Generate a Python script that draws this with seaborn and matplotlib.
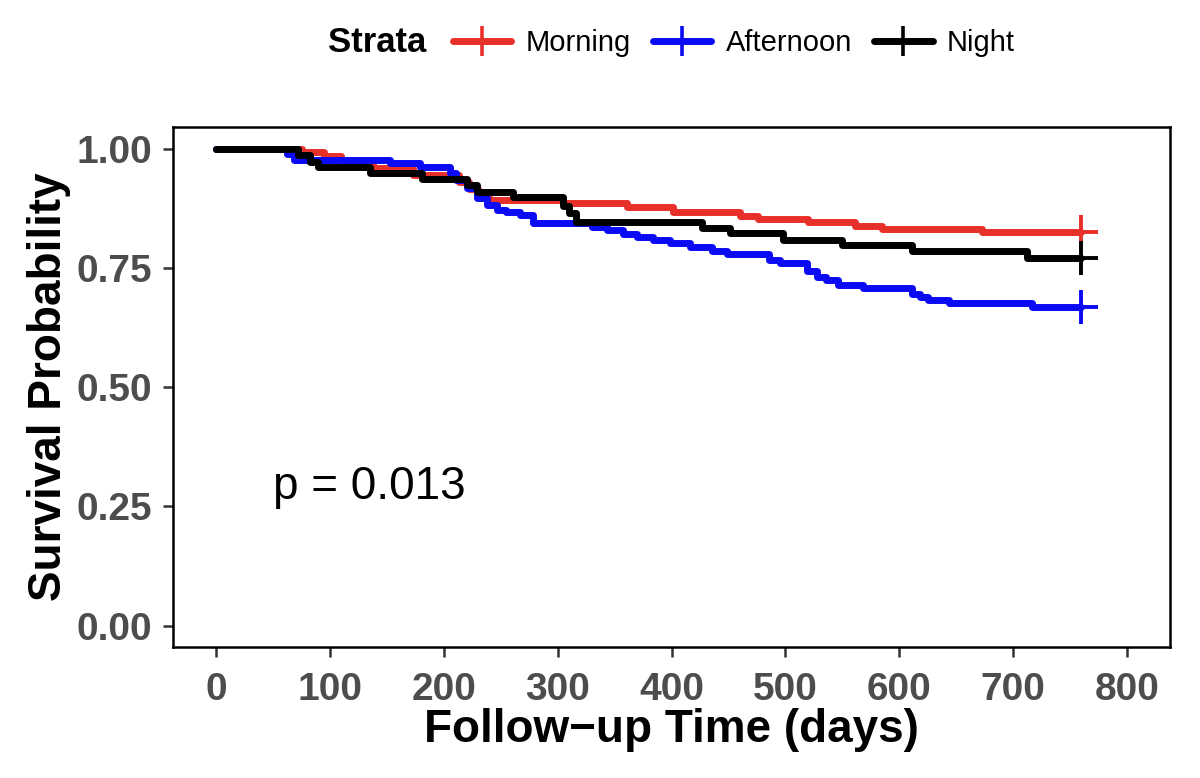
import matplotlib
matplotlib.use("Agg")
import matplotlib.pyplot as plt
from matplotlib.lines import Line2D
import seaborn as sns
import pandas as pd

# ---- data ----
strata = ["Morning", "Afternoon", "Night"]
colors = ["#E8302A", "#0A0AF5", "#000000"]

morning_t = [0, 75, 95, 110, 138, 173, 213, 222, 230, 240, 305, 361, 401, 460, 476, 520, 561, 585, 673, 760]
morning_s = [1.0, 0.993, 0.985, 0.973, 0.960, 0.945, 0.930, 0.915, 0.900, 0.893, 0.886, 0.879, 0.867, 0.860, 0.853, 0.846, 0.839, 0.832, 0.825, 0.825]

afternoon_t = [0, 62, 68, 153, 179, 205, 211, 220, 229, 238, 247, 255, 267, 278, 330, 343, 357, 370, 384, 399, 416, 436, 449, 486, 495, 519, 528, 536, 546, 568, 611, 618, 625, 644, 717, 760]
afternoon_s = [1.0, 0.990, 0.977, 0.971, 0.962, 0.950, 0.935, 0.918, 0.897, 0.883, 0.872, 0.868, 0.862, 0.845, 0.837, 0.830, 0.822, 0.815, 0.808, 0.802, 0.795, 0.785, 0.780, 0.767, 0.760, 0.743, 0.732, 0.725, 0.715, 0.708, 0.696, 0.689, 0.683, 0.677, 0.668, 0.668]

night_t = [0, 72, 82, 89, 135, 181, 220, 229, 261, 305, 310, 316, 427, 451, 498, 550, 611, 712, 760]
night_s = [1.0, 0.987, 0.973, 0.962, 0.949, 0.936, 0.925, 0.910, 0.900, 0.880, 0.865, 0.846, 0.834, 0.823, 0.809, 0.799, 0.785, 0.771, 0.771]

x_ticks = [0, 100, 200, 300, 400, 500, 600, 700, 800]
y_ticks = [0.00, 0.25, 0.50, 0.75, 1.00]
y_tick_labels = ["0.00", "0.25", "0.50", "0.75", "1.00"]
p_text = "p = 0.013"

frames = []
for name, t, s in [("Morning", morning_t, morning_s),
                   ("Afternoon", afternoon_t, afternoon_s),
                   ("Night", night_t, night_s)]:
    frames.append(pd.DataFrame({"time": t, "surv": s, "Strata": name}))
df = pd.concat(frames, ignore_index=True)
ends = df.groupby("Strata", sort=False).tail(1)

# ---- plot ----
sns.set_style("ticks")
plt.rcParams["font.family"] = ["Liberation Sans", "DejaVu Sans"]
plt.rcParams["text.color"] = "black"
plt.rcParams["axes.labelcolor"] = "black"

fig = plt.figure(figsize=(12, 7.78), dpi=100)
ax = fig.add_axes([173/1200, 1-647/778, (1170-173)/1200, (647-127)/778])

pal = dict(zip(strata, colors))
sns.lineplot(data=df, x="time", y="surv", hue="Strata", hue_order=strata,
             palette=pal, drawstyle="steps-post", estimator=None,
             linewidth=5.0, ax=ax, legend=False)
for _, r in ends.iterrows():
    ax.plot(r["time"], r["surv"], marker="+", markersize=24, mew=2.8,
            color=pal[r["Strata"]], linestyle="none")

ax.set_xlim(-38, 838)
ax.set_ylim(-0.045, 1.046)
ax.set_xticks(x_ticks)
ax.set_yticks(y_ticks)
ax.set_yticklabels(y_tick_labels)
ax.tick_params(axis="both", direction="out", length=7, width=1.8,
               bottom=True, left=True, top=False, right=False,
               color="#333333", labelsize=28, labelcolor="#4D4D4D")
ax.tick_params(axis="x", pad=11)
ax.tick_params(axis="y", pad=8)
for lab in ax.get_xticklabels() + ax.get_yticklabels():
    lab.set_fontweight("bold")
for sp in ax.spines.values():
    sp.set_visible(True)
    sp.set_color("black")
    sp.set_linewidth(1.8)

ax.set_xlabel("Follow\u2212up Time (days)", fontsize=33, fontweight="bold",
              labelpad=0, color="black")
ax.set_ylabel("Survival Probability", fontsize=33, fontweight="bold",
              labelpad=4, color="black")

ax.text(50, 0.29, p_text, fontsize=33, ha="left", va="center", color="black")

# legend on top
fig.text(328/1200, 1-43/778, "Strata", fontsize=25, fontweight="bold",
         ha="left", va="center", color="black")
handles = [Line2D([], [], color=c, lw=5.0, marker="+", markersize=22, mew=2.6)
           for c in colors]
leg = fig.legend(handles, strata, loc="center left", bbox_to_anchor=(453/1200, 1-43/778),
                 ncol=3, frameon=False, fontsize=21, handlelength=2.0,
                 handletextpad=0.5, columnspacing=0.75, borderaxespad=0, borderpad=0)
for txt in leg.get_texts():
    txt.set_color("black")

fig.savefig("out.png", dpi=100)
